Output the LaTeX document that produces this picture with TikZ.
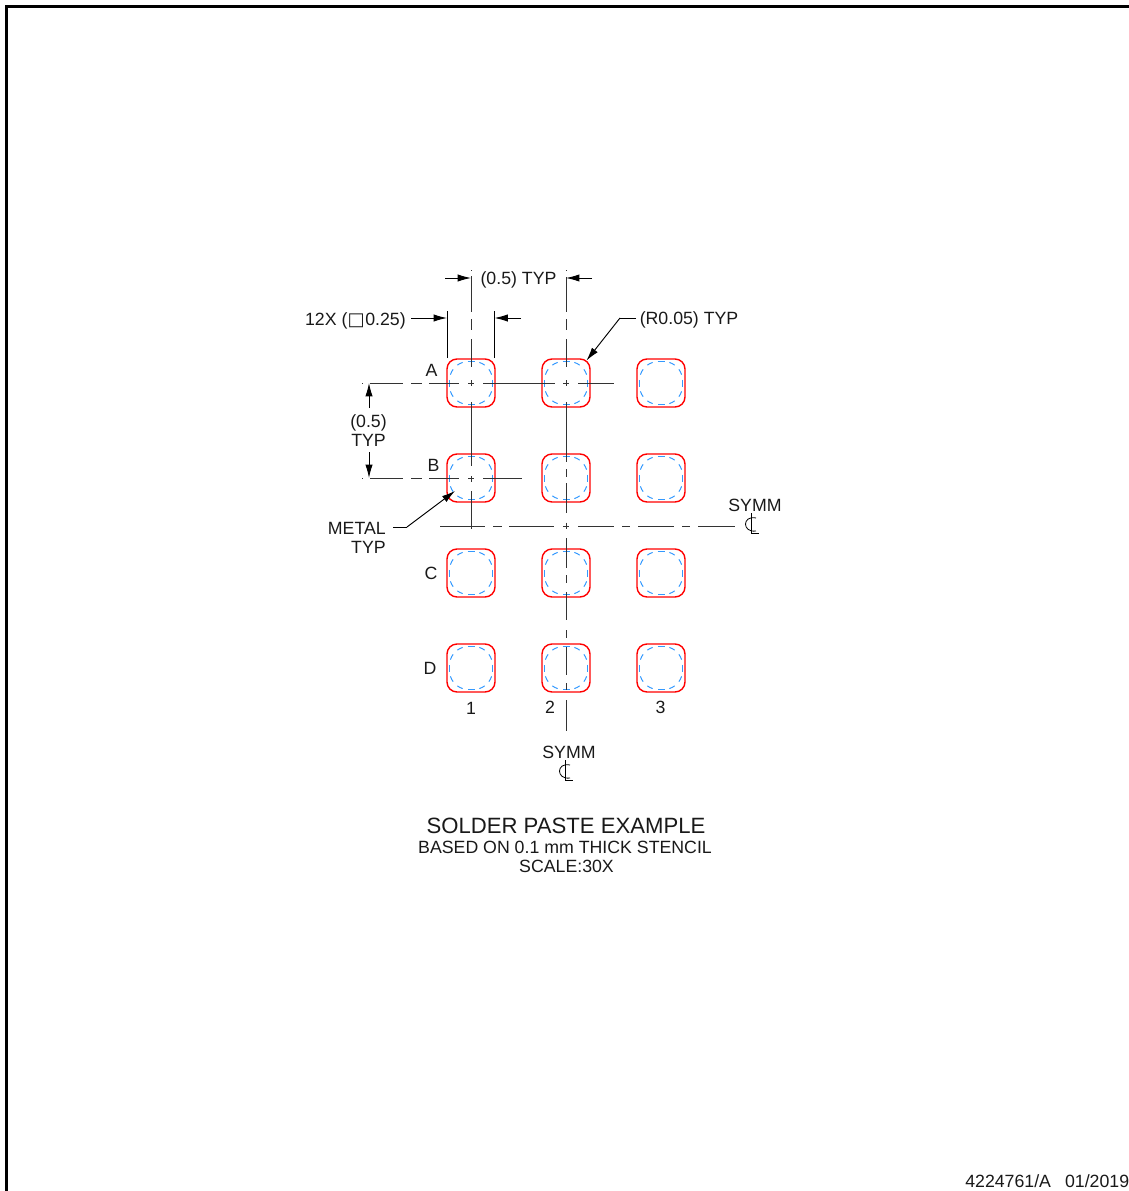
\documentclass[tikz,border=0pt]{standalone}
\usepackage{fontspec}
\setmainfont{Liberation Sans}
\newfontfamily\symfont{DejaVu Sans}
\usetikzlibrary{arrows.meta}
\definecolor{metalblue}{RGB}{51,153,255}
\tikzset{
   padbox/.style={draw=red,line width=1.05pt,rounded corners=7.5pt,minimum size=36pt,inner sep=0pt},
   metaldash/.style={metalblue,line width=0.75pt},
   cline/.style={black!80,line width=0.7pt},
   dimline/.style={black,line width=0.7pt},
   dimarrow/.style={black,line width=0.7pt,-{Latex[length=10pt,width=5.5pt]}},
   lbl/.style={inner sep=0pt,font=\fontsize{13.3}{14.25}\selectfont,text=black!90},
   bigtitle/.style={inner sep=0pt,font=\fontsize{16.6}{18}\selectfont,text=black!90},
   metalmark/.pic={
      \foreach \rot in {0,90,180,270} {
         \begin{scope}[rotate=\rot]
            \draw [metaldash] (21.5,-3.5) -- (21.5,3.5);
            \foreach \a/\b in {18/36,54/72} {
               \draw [metaldash] ([shift={(2.5,2.5)}]\a:19) arc[start angle=\a,end angle=\b,radius=19];
            }
         \end{scope}
      }
   },
   clmark/.pic={
      \draw [black,line width=0.6pt] (0,-12) -- (0,8) -- (8,8);
      \draw [black,line width=0.6pt] (5,-7) .. controls (-9,-10) and (-9,8) .. (5,6);
   }
}
\begin{document}
\begin{tikzpicture}[x=0.75pt,y=-0.75pt]
   \useasboundingbox (0,0) rectangle (1128,1191);
   \draw [black,line width=1.9pt] (6.5,1200) -- (6.5,6.5) -- (1140,6.5);
   \foreach \r/\y in {A/383,B/478,C/573,D/668} {
      \foreach \c/\x in {1/471,2/566,3/661} {
         \node (pad\r\c) [padbox] at (\x,\y) {};
         \pic at (\x,\y) {metalmark};
      }
   }
   \foreach \a/\b in {270/270.8,276/312,319/330,339/367,380/386,402/466,476/482,491/529} {
      \draw [cline] (471,\a) -- (471,\b);
   }
   \foreach \a/\b in {270/270.8,277/312,319/330,339/367,380/386,402/462,469/477,483/513,522.5/528.5,538/568,575/583,592/620,630/638,647/675,683/690,700/731} {
      \draw [cline] (566,\a) -- (566,\b);
   }
   \foreach \y in {383,478} {
      \draw [cline] (362,\y) -- (362.8,\y);
      \draw [cline] (370,\y) -- (403,\y);
      \draw [cline] (411,\y) -- (422,\y);
      \draw [cline] (429,\y) -- (459,\y);
      \draw [cline] (468,\y) -- (474,\y);
   }
   \draw [cline] (483,383) -- (555,383);
   \draw [cline] (563,383) -- (569,383);
   \draw [cline] (578,383) -- (614,383);
   \draw [cline] (483,478) -- (522,478);
   \foreach \a/\b in {440/485,493/502,509/554,563/569,578/614,622/630,638/674,682/690,698/735} {
      \draw [cline] (\a,526) -- (\b,526);
   }
   \coordinate (padL) at (447,358);
   \coordinate (padR) at (494.5,358);
   \coordinate (dimL) at (447,311);
   \coordinate (dimR) at (494.5,311);
   \draw [dimline] (padL) -- (dimL);
   \draw [dimline] (padR) -- (dimR);
   \coordinate (sizeA) at (411,318);
   \coordinate (sizeB) at (447,318);
   \coordinate (sizeC) at (521,318);
   \coordinate (sizeD) at (494.5,318);
   \draw [dimarrow] (sizeA) -- (sizeB);
   \draw [dimarrow] (sizeC) -- (sizeD);
   \coordinate (pitchA) at (445,278);
   \coordinate (pitchB) at (471,278);
   \coordinate (pitchC) at (592,278);
   \coordinate (pitchD) at (566,278);
   \draw [dimarrow] (pitchA) -- (pitchB);
   \draw [dimarrow] (pitchC) -- (pitchD);
   \coordinate (vdimA) at (369,408);
   \coordinate (vdimB) at (369,383);
   \coordinate (vdimC) at (369,452);
   \coordinate (vdimD) at (369,478);
   \draw [dimarrow] (vdimA) -- (vdimB);
   \draw [dimarrow] (vdimC) -- (vdimD);
   \node (sizelbl) [lbl,anchor=east] at (406,320.5) {12X ({\symfont\fontsize{13.6}{15}\selectfont □}\hspace{0.5pt}0.25)};
   \node (pitchlbl) [lbl] at (518.5,279.5) {(0.5) TYP};
   \node (radlbl) [lbl,anchor=west] at (639.5,319.5) {(R0.05) TYP};
   \coordinate (radstub) at (636,318);
   \coordinate (radknee) at (620,318);
   \coordinate (radtip) at (586.5,360.5);
   \draw [dimline] (radstub) -- (radknee);
   \draw [dimarrow] (radknee) -- (radtip);
   \node (rowlbl) [lbl,align=center] at (368.5,431) {(0.5)\\TYP};
   \node (metallbl) [lbl,align=right,anchor=east] at (386,537.5) {METAL\\TYP};
   \coordinate (metalknee) at (407,527);
   \coordinate (metalstub) at (393,527);
   \coordinate (metaltip) at (455,491);
   \draw [dimline] (metalstub) -- (metalknee);
   \draw [dimarrow] (metalknee) -- (metaltip);
   \node (rowA) [lbl] at (431.5,370) {A};
   \node (rowB) [lbl] at (433.5,465) {B};
   \node (rowC) [lbl] at (431,573) {C};
   \node (rowD) [lbl] at (430,668) {D};
   \node (col1) [lbl] at (471,708) {1};
   \node (col2) [lbl] at (550,707) {2};
   \node (col3) [lbl] at (660.5,707) {3};
   \node (symmR) [lbl] at (755,505) {SYMM};
   \node (symmB) [lbl] at (569,752) {SYMM};
   \pic at (751,525) {clmark};
   \pic at (565,772) {clmark};
   \node (title) [bigtitle] at (566,826) {SOLDER PASTE EXAMPLE};
   \node (stencil) [lbl] at (565,847) {BASED ON 0.1 mm THICK STENCIL};
   \node (scale) [lbl] at (566.5,866) {SCALE:30X};
   \node (docno) [lbl,anchor=west] at (965,1181) {4224761/A\hspace{10.5pt}01/2019};
\end{tikzpicture}
\end{document}
